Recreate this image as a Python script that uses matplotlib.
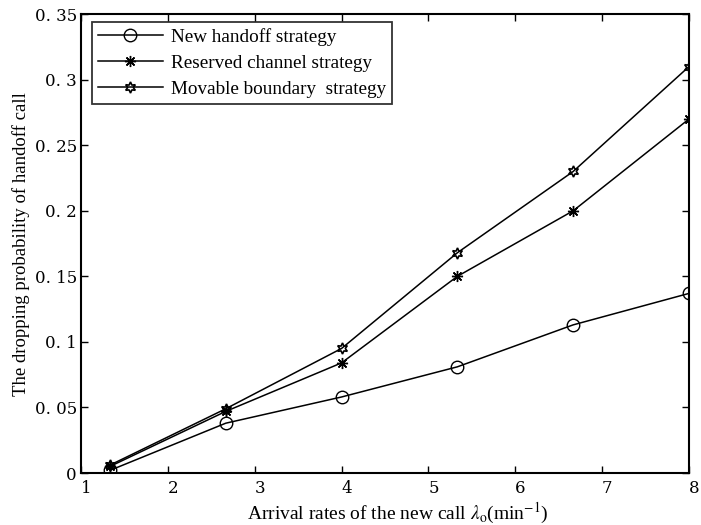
import matplotlib
matplotlib.use("Agg")
import matplotlib.pyplot as plt
from matplotlib.ticker import FuncFormatter
from matplotlib.transforms import ScaledTranslation

plt.rcParams["font.family"] = ["Liberation Serif", "DejaVu Serif"]
plt.rcParams["mathtext.fontset"] = "stix"

arrival_rates = [4 / 3, 8 / 3, 4.0, 16 / 3, 20 / 3, 8.0]
new_handoff = [0.002, 0.038, 0.058, 0.081, 0.113, 0.137]
reserved_channel = [0.005, 0.047, 0.084, 0.150, 0.200, 0.270]
movable_boundary = [0.006, 0.049, 0.095, 0.168, 0.230, 0.310]

fig = plt.figure(figsize=(7.01, 5.25), dpi=100)
ax = fig.add_axes([0.1155, 0.099, 0.8673, 0.874])

ax.plot(arrival_rates, new_handoff, color="black", lw=1.1, marker="o",
        ms=9, mfc="none", mec="black", mew=1.0, label="New handoff strategy")
ax.plot(arrival_rates, reserved_channel, color="black", lw=1.1, marker=(8, 2, 0),
        ms=8, mec="black", mew=1.0, label="Reserved channel strategy")
ax.plot(arrival_rates, movable_boundary, color="black", lw=1.1, marker=(6, 1, 0),
        ms=8, mfc="none", mec="black", mew=1.2, label="Movable boundary  strategy")

ax.set_xlim(1, 8)
ax.set_ylim(0, 0.35)
ax.set_xticks(range(1, 9))
ax.set_yticks([0, 0.05, 0.1, 0.15, 0.2, 0.25, 0.3, 0.35])


def fmt_y(v, pos):
    if v == 0:
        return "0"
    return ("%g" % round(v, 2)).replace(".", ". ")


ax.yaxis.set_major_formatter(FuncFormatter(fmt_y))
ax.tick_params(direction="in", top=True, right=True, length=5, width=1.0,
               labelsize=12)
ax.tick_params(axis="x", pad=5)
ax.tick_params(axis="y", pad=3)
for lab in ax.get_xticklabels() + ax.get_yticklabels():
    lab.set_family(["DejaVu Serif"])
shift = ScaledTranslation(5 / 100, 0, fig.dpi_scale_trans)
for lab in ax.get_xticklabels():
    lab.set_transform(lab.get_transform() + shift)
for s in ax.spines.values():
    s.set_linewidth(1.5)

ax.set_xlabel(r"Arrival rates of the new call $\lambda_{\rm o}$(min$^{-1}$)",
              fontsize=14)
ax.xaxis.set_label_coords(0.521, -0.06)
ax.set_ylabel("The dropping probability of handoff call", fontsize=13.5, labelpad=3)

leg = ax.legend(loc="upper left", bbox_to_anchor=(0.018, 0.982), fontsize=13.75,
                frameon=True, fancybox=False, edgecolor="black", borderpad=0.3,
                handlelength=3.4, handletextpad=0.45, labelspacing=0.45,
                borderaxespad=0)
leg.get_frame().set_linewidth(1.3)

fig.savefig("out.png", dpi=100)
